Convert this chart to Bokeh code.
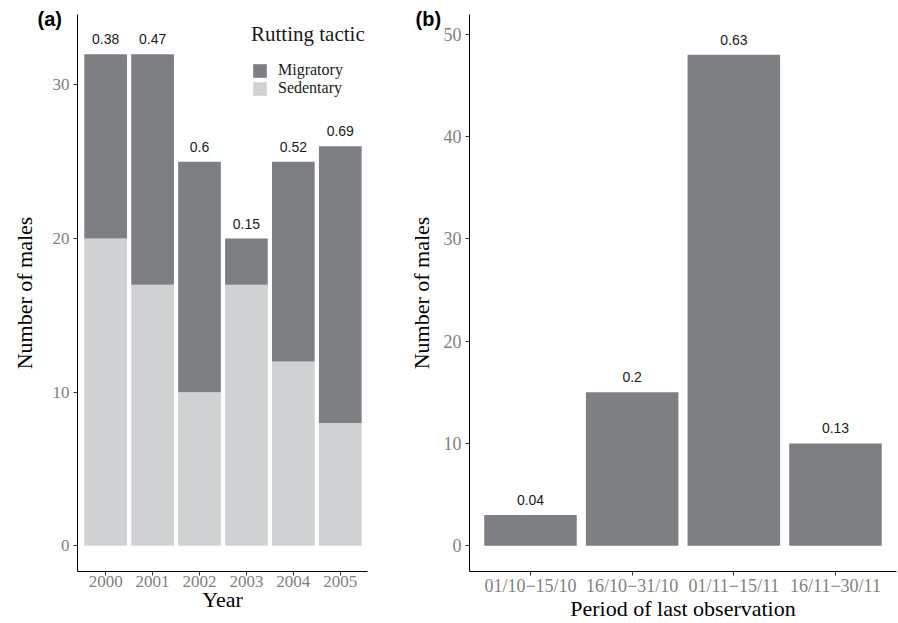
from bokeh.plotting import figure
from bokeh.models import (ColumnDataSource, Range1d, FixedTicker, LabelSet, Title,
                          Legend, LegendItem)
from bokeh.core.properties import value
from bokeh.layouts import row
from bokeh.embed import file_html
from bokeh.resources import INLINE

# ---- data ----
years = [2000, 2001, 2002, 2003, 2004, 2005]
sedentary = [20, 17, 10, 17, 12, 8]
migratory = [12, 15, 15, 3, 13, 18]
prop_labels_a = ["0.38", "0.47", "0.6", "0.15", "0.52", "0.69"]

periods = ["01/10\u221215/10", "16/10\u221231/10", "01/11\u221215/11", "16/11\u221230/11"]
period_counts = [3, 15, 48, 10]
prop_labels_b = ["0.04", "0.2", "0.63", "0.13"]

MIG = "#7e7f83"
SED = "#d0d1d3"
SERIF = "Liberation Serif"
SANS = "Liberation Sans"
TICKC = "#7f7f7f"


def style(p, tick_size):
    p.outline_line_color = None
    p.xgrid.visible = False
    p.ygrid.visible = False
    p.background_fill_color = "white"
    p.border_fill_color = "white"
    for ax in (p.xaxis[0], p.yaxis[0]):
        ax.axis_line_color = "black"
        ax.axis_line_width = 1
        ax.major_tick_line_color = "#333333"
        ax.major_tick_in = 0
        ax.major_tick_out = 4
        ax.minor_tick_line_color = None
        ax.major_label_text_font = SERIF
        ax.major_label_text_font_size = tick_size
        ax.major_label_text_color = TICKC
        ax.major_label_standoff = 4
        ax.axis_label_text_font = SERIF
        ax.axis_label_text_font_size = "22px"
        ax.axis_label_text_font_style = "normal"
        ax.axis_label_text_color = "black"
    xa = p.xaxis[0]
    xa.major_label_standoff = 0
    xa.axis_label_standoff = -3
    xa.axis_label_text_line_height = 0.8
    xa.major_label_text_line_height = 0.9


def panel_title(text, offset):
    return Title(text=text, align="left", text_font=SANS, text_font_style="bold",
                 text_font_size="20px", text_color="black", standoff=-30,
                 text_line_height=1.9, offset=offset)


# ---- panel (a) ----
src_a = ColumnDataSource(dict(year=years, Sedentary=sedentary, Migratory=migratory,
                              total=[s + m for s, m in zip(sedentary, migratory)],
                              lab=prop_labels_a))

pa = figure(width=400, height=623, output_backend="svg", toolbar_location=None,
            x_range=Range1d(1999.4, 2005.58), y_range=Range1d(-1.67, 34.58),
            min_border_left=77, min_border_right=33, min_border_top=12,
            min_border_bottom=48, title=panel_title("(a)", -40))
style(pa, "17px")
rs = pa.vbar_stack(["Sedentary", "Migratory"], x="year", width=0.91, color=[SED, MIG],
                   line_color=None, source=src_a)
pa.xaxis.ticker = FixedTicker(ticks=years)
pa.yaxis.ticker = FixedTicker(ticks=[0, 10, 20, 30])
pa.xaxis.axis_label = "Year"
pa.yaxis.axis_label = "Number of males"
pa.yaxis.axis_label_standoff = 13

pa.add_layout(LabelSet(x="year", y="total", text="lab", source=src_a, text_align="center",
                       text_baseline="bottom", y_offset=10, text_font=value(SANS),
                       text_font_size=value("14px"), text_color="#1a1a1a"))

leg = Legend(items=[LegendItem(label="Migratory", renderers=[rs[1]]),
                    LegendItem(label="Sedentary", renderers=[rs[0]])],
             location=(174, 474), title="Rutting tactic")
leg.title_text_font = SERIF
leg.title_text_font_size = "21px"
leg.title_text_font_style = "normal"
leg.title_text_color = "#1a1a1a"
leg.label_text_font = SERIF
leg.label_text_font_size = "16px"
leg.label_text_color = "#1a1a1a"
leg.glyph_width = 17
leg.glyph_height = 17
leg.label_height = 17
leg.spacing = 0
leg.label_standoff = 10
leg.padding = 2
leg.margin = 0
leg.border_line_color = None
leg.background_fill_alpha = 0
leg.title_standoff = 14
pa.add_layout(leg)

# ---- panel (b) ----
idx = list(range(len(periods)))
src_b = ColumnDataSource(dict(x=idx, n=period_counts, lab=prop_labels_b))
pb = figure(width=498, height=623, output_backend="svg", toolbar_location=None,
            x_range=Range1d(-0.6, 3.6), y_range=Range1d(-2.52, 51.94),
            min_border_left=69, min_border_right=2, min_border_top=14,
            min_border_bottom=48, title=panel_title("(b)", -54))
style(pb, "18px")
pb.vbar(x="x", top="n", width=0.91, color=MIG, line_color=None, source=src_b)
pb.xaxis.ticker = FixedTicker(ticks=idx)
pb.xaxis.major_label_overrides = {i: p for i, p in zip(idx, periods)}
pb.yaxis.ticker = FixedTicker(ticks=[0, 10, 20, 30, 40, 50])
pb.xaxis.axis_label = "Period of last observation"
pb.yaxis.axis_label = "Number of males"
pb.yaxis.axis_label_standoff = 7
pb.add_layout(LabelSet(x="x", y="n", text="lab", source=src_b, text_align="center",
                       text_baseline="bottom", y_offset=10, text_font=value(SANS),
                       text_font_size=value("14px"), text_color="#1a1a1a"))

layout = row(pa, pb, spacing=0)
open("out.html", "w").write(file_html(layout, INLINE))
